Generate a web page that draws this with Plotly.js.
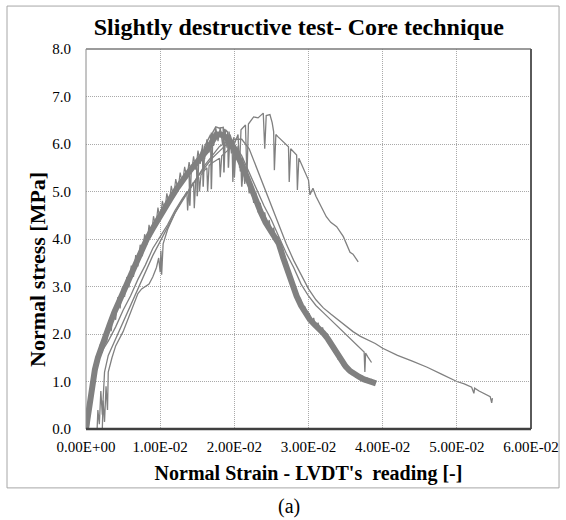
<!DOCTYPE html>
<html>
<head>
<meta charset="utf-8">
<script src="https://cdn.plot.ly/plotly-3.0.1.min.js"></script>
<style>html,body{margin:0;padding:0;background:#fff}#chart{width:566px;height:520px}</style>
</head>
<body>
<div id="chart"></div>
<script>
// ---- axis ticks ----
const xTickVals = [0, 0.01, 0.02, 0.03, 0.04, 0.05, 0.06];
const xTickText = ["0.00E+00", "1.00E-02", "2.00E-02", "3.00E-02", "4.00E-02", "5.00E-02", "6.00E-02"];
const yTickVals = [0, 1, 2, 3, 4, 5, 6, 7, 8];

// ---- specimen 1: thick band (smooth core) ----
const coreX = [0, 0.0003, 0.0006, 0.0008, 0.0012, 0.0016, 0.002, 0.0026, 0.0032, 0.0038, 0.0045, 0.0052, 0.006, 0.0068, 0.0075, 0.0082, 0.009, 0.0098, 0.0106, 0.0114, 0.0122, 0.013, 0.0138, 0.0146, 0.0154, 0.0162, 0.017, 0.0176, 0.0182, 0.0188, 0.0194, 0.02, 0.0206, 0.0212, 0.0218, 0.0224, 0.023, 0.0236, 0.0242, 0.0248, 0.0254, 0.026, 0.0266, 0.0272, 0.0278, 0.0284, 0.029, 0.0296, 0.0302, 0.0308, 0.0314, 0.032, 0.0326, 0.0332, 0.0338, 0.0344, 0.035, 0.0356, 0.0362, 0.0368, 0.0374, 0.038, 0.0386, 0.0391];
const coreY = [0, 0.35, 0.7, 0.95, 1.25, 1.5, 1.7, 1.95, 2.2, 2.45, 2.7, 2.95, 3.2, 3.5, 3.75, 4.0, 4.22, 4.45, 4.65, 4.85, 5.05, 5.25, 5.4, 5.55, 5.7, 5.85, 6.05, 6.2, 6.2, 6.15, 6.05, 5.9, 5.7, 5.5, 5.25, 5.0, 4.75, 4.55, 4.35, 4.2, 4.05, 3.9, 3.6, 3.3, 3.0, 2.8, 2.6, 2.42, 2.3, 2.2, 2.12, 2.02, 1.9, 1.75, 1.58, 1.42, 1.32, 1.22, 1.15, 1.1, 1.05, 1.02, 0.99, 0.96];

// ---- specimen 1: oscillating edge of the band ----
const bandX = [0.0000, 0.0002, 0.0004, 0.0006, 0.0008, 0.0010, 0.0012, 0.0014, 0.0016, 0.0019, 0.0022, 0.0025, 0.0028, 0.0031, 0.0034, 0.0037, 0.0040, 0.0043, 0.0046, 0.0049, 0.0052, 0.0055, 0.0058, 0.0061, 0.0064, 0.0067, 0.0070, 0.0073, 0.0076, 0.0079, 0.0082, 0.0085, 0.0088, 0.0091, 0.0094, 0.0097, 0.0100, 0.0103, 0.0106, 0.0109, 0.0112, 0.0115, 0.0118, 0.0121, 0.0124, 0.0127, 0.0130, 0.0133, 0.0136, 0.0139, 0.0142, 0.0145, 0.0148, 0.0151, 0.0154, 0.0157, 0.0160, 0.0163, 0.0166, 0.0169, 0.0172, 0.0175, 0.0178, 0.0181, 0.0184, 0.0187, 0.0190, 0.0193, 0.0196, 0.0199, 0.0202, 0.0205, 0.0208, 0.0211, 0.0214, 0.0217, 0.0220, 0.0223, 0.0226, 0.0229, 0.0232, 0.0235, 0.0238, 0.0241, 0.0244, 0.0247, 0.0250, 0.0253, 0.0256, 0.0259, 0.0262, 0.0265, 0.0268, 0.0271, 0.0274, 0.0277, 0.0280, 0.0283, 0.0286, 0.0289, 0.0292, 0.0295, 0.0298, 0.0301, 0.0304, 0.0307, 0.0310, 0.0313, 0.0316, 0.0319, 0.0322, 0.0325, 0.0328, 0.0331, 0.0334, 0.0337, 0.0340, 0.0343, 0.0346, 0.0349, 0.0352, 0.0355, 0.0358, 0.0361, 0.0364, 0.0367, 0.0370, 0.0373, 0.0376, 0.0379, 0.0382, 0.0385, 0.0388, 0.0391];
const bandY = [0.00, 0.45, 0.25, 0.85, 0.70, 1.20, 1.05, 1.50, 1.35, 1.78, 1.60, 2.02, 1.82, 2.28, 2.06, 2.52, 2.30, 2.78, 2.54, 2.98, 2.78, 3.20, 2.98, 3.44, 3.20, 3.66, 3.42, 3.88, 3.64, 4.10, 3.88, 4.30, 4.06, 4.48, 4.26, 4.66, 4.40, 4.80, 4.58, 4.96, 4.74, 5.12, 4.88, 5.26, 5.04, 5.40, 5.16, 5.52, 5.28, 5.62, 5.38, 5.74, 5.46, 5.86, 5.58, 5.98, 5.68, 6.10, 5.82, 6.24, 5.96, 6.34, 6.06, 6.35, 6.00, 6.32, 5.92, 6.26, 5.80, 6.14, 5.66, 5.96, 5.42, 5.72, 5.16, 5.46, 4.96, 5.20, 4.76, 4.98, 4.56, 4.76, 4.38, 4.56, 4.24, 4.40, 4.08, 4.24, 3.94, 4.06, 3.76, 3.80, 3.46, 3.52, 3.14, 3.22, 2.88, 2.96, 2.66, 2.76, 2.48, 2.58, 2.34, 2.44, 2.22, 2.34, 2.12, 2.24, 2.02, 2.14, 1.92, 2.02, 1.78, 1.86, 1.62, 1.68, 1.46, 1.52, 1.32, 1.40, 1.22, 1.30, 1.14, 1.22, 1.08, 1.16, 1.03, 1.12, 0.99, 1.08, 0.96, 1.05, 0.93, 1.00];

// ---- specimen 2: follows the band, with drops near the peak ----
const s2X = [0, 0.0004, 0.001, 0.002, 0.003, 0.004, 0.005, 0.006, 0.007, 0.008, 0.009, 0.010, 0.011, 0.012, 0.013, 0.0139, 0.0140, 0.0142, 0.0149, 0.0150, 0.0152, 0.0157, 0.0158, 0.0160, 0.0168, 0.0169, 0.0171, 0.0175, 0.018, 0.0185, 0.0186, 0.0188, 0.0191, 0.0192, 0.0194, 0.0199, 0.0200, 0.0202, 0.0209, 0.0210, 0.0212, 0.022, 0.023, 0.024, 0.025, 0.026, 0.027, 0.028, 0.029, 0.030, 0.031, 0.032, 0.033, 0.034, 0.035, 0.036, 0.037, 0.038, 0.0388];
const s2Y = [0, 0.6, 1.2, 1.75, 2.15, 2.55, 2.9, 3.25, 3.6, 3.95, 4.25, 4.5, 4.75, 5.0, 5.25, 5.45, 4.7, 5.5, 5.65, 4.9, 5.7, 5.9, 5.1, 5.95, 6.2, 5.05, 6.25, 6.36, 6.33, 6.35, 5.4, 6.3, 6.25, 5.5, 6.2, 5.95, 5.3, 5.9, 5.6, 5.1, 5.5, 5.15, 4.75, 4.4, 4.1, 3.85, 3.4, 2.95, 2.62, 2.35, 2.18, 2.05, 1.82, 1.5, 1.3, 1.18, 1.1, 1.03, 0.98];

// ---- specimen 3: long tail ----
const s3X = [0.0003, 0.0006, 0.001, 0.0015, 0.002, 0.003, 0.004, 0.005, 0.006, 0.007, 0.008, 0.009, 0.010, 0.011, 0.012, 0.013, 0.014, 0.015, 0.016, 0.017, 0.018, 0.019, 0.020, 0.021, 0.022, 0.023, 0.024, 0.025, 0.026, 0.027, 0.028, 0.029, 0.030, 0.031, 0.032, 0.033, 0.034, 0.035, 0.036, 0.037, 0.038, 0.039, 0.040, 0.042, 0.044, 0.046, 0.048, 0.050, 0.051, 0.052, 0.0523, 0.0524, 0.053, 0.054, 0.0545, 0.0547, 0.0548];
const s3Y = [0, 0.5, 0.9, 1.3, 1.6, 1.85, 2.15, 2.5, 2.8, 3.15, 3.45, 3.8, 4.05, 4.3, 4.6, 4.85, 5.05, 5.3, 5.5, 5.7, 5.85, 6.0, 6.1, 6.1, 5.9, 5.5, 5.1, 4.7, 4.3, 3.9, 3.55, 3.25, 2.95, 2.72, 2.55, 2.42, 2.3, 2.18, 2.05, 1.95, 1.87, 1.8, 1.7, 1.55, 1.43, 1.3, 1.15, 1.0, 0.95, 0.88, 0.75, 0.86, 0.8, 0.72, 0.68, 0.55, 0.65];

// ---- specimen 4: ends near 1.4 ----
const s4X = [0.0015, 0.0016, 0.0018, 0.002, 0.0022, 0.0025, 0.003, 0.004, 0.005, 0.006, 0.007, 0.008, 0.009, 0.010, 0.011, 0.012, 0.013, 0.014, 0.015, 0.016, 0.017, 0.018, 0.019, 0.020, 0.021, 0.022, 0.023, 0.024, 0.025, 0.026, 0.027, 0.028, 0.029, 0.030, 0.031, 0.032, 0.033, 0.034, 0.035, 0.036, 0.037, 0.0375, 0.0376, 0.0377, 0.038, 0.0385];
const s4Y = [0, 0.4, 0.1, 0.8, 0.3, 1.2, 1.55, 1.9, 2.25, 2.6, 2.95, 3.3, 3.65, 3.95, 4.25, 4.55, 4.8, 5.05, 5.3, 5.55, 5.75, 5.95, 6.05, 6.0, 5.75, 5.4, 5.05, 4.7, 4.4, 4.05, 3.7, 3.4, 3.05, 2.8, 2.6, 2.45, 2.3, 2.15, 2.0, 1.85, 1.7, 1.62, 1.2, 1.6, 1.52, 1.4];

// ---- specimen 5: highest peak with drops ----
const s5X = [0.0022, 0.0023, 0.0025, 0.0027, 0.0029, 0.003, 0.0035, 0.004, 0.005, 0.006, 0.007, 0.0075, 0.008, 0.0085, 0.009, 0.0095, 0.0098, 0.0100, 0.0101, 0.0102, 0.0104, 0.011, 0.012, 0.013, 0.0136, 0.0137, 0.0139, 0.0145, 0.0146, 0.0148, 0.0152, 0.0153, 0.0155, 0.016, 0.0163, 0.0164, 0.0166, 0.017, 0.018, 0.0181, 0.0183, 0.019, 0.0197, 0.0198, 0.020, 0.0205, 0.0207, 0.0209, 0.0215, 0.0217, 0.0219, 0.0226, 0.0232, 0.0239, 0.0241, 0.0243, 0.0248, 0.0251, 0.0253, 0.0254, 0.0256, 0.0259, 0.0266, 0.0273, 0.0274, 0.0276, 0.0284, 0.0285, 0.0287, 0.0293, 0.030, 0.0302, 0.0306, 0.031, 0.0316, 0.0324, 0.033, 0.0338, 0.0347, 0.035, 0.0356, 0.036, 0.0363, 0.0367];
const s5Y = [0, 0.6, 0.15, 0.9, 0.4, 1.2, 1.5, 1.75, 2.05, 2.45, 2.85, 2.95, 3.0, 3.05, 3.2, 3.4, 3.6, 3.3, 3.75, 3.25, 3.9, 4.2, 4.55, 4.85, 5.0, 4.6, 5.05, 5.2, 4.65, 5.25, 5.3, 5.0, 5.35, 5.45, 5.5, 5.0, 5.55, 5.6, 5.7, 5.3, 5.75, 5.85, 5.95, 5.2, 6.0, 6.2, 5.5, 6.3, 6.4, 5.3, 6.42, 6.57, 6.55, 6.65, 5.9, 6.6, 6.62, 6.45, 6.26, 5.45, 6.2, 6.15, 6.05, 5.94, 5.2, 5.9, 5.77, 5.03, 5.7, 5.49, 5.24, 4.93, 5.07, 4.9, 4.7, 4.47, 4.35, 4.26, 4.05, 3.95, 3.72, 3.68, 3.6, 3.52];

const gray = '#808080';
const traces = [
  {x: coreX, y: coreY, mode: 'lines', line: {color: gray, width: 6}},
  {x: bandX, y: bandY, mode: 'lines', line: {color: gray, width: 1.2}},
  {x: s2X, y: s2Y, mode: 'lines', line: {color: gray, width: 1.5}},
  {x: s3X, y: s3Y, mode: 'lines', line: {color: gray, width: 1.3}},
  {x: s4X, y: s4Y, mode: 'lines', line: {color: gray, width: 1.3}},
  {x: s5X, y: s5Y, mode: 'lines', line: {color: gray, width: 1.3}}
];

const serif = 'Liberation Serif';
const layout = {
  width: 566, height: 520,
  margin: {l: 86, r: 35, t: 49, b: 91},
  paper_bgcolor: '#fff', plot_bgcolor: '#fff',
  showlegend: false,
  title: {text: 'Slightly destructive test- Core technique',
    font: {family: serif, size: 24, color: '#000', weight: 'bold'},
    x: 0.528, xref: 'container', xanchor: 'center', y: 0.948, yref: 'container', yanchor: 'middle'},
  xaxis: {range: [0, 0.06], tickvals: xTickVals, ticktext: xTickText,
    showgrid: true, gridcolor: '#a9a9a9', griddash: '1px,1px', gridwidth: 1,
    zeroline: false, showline: false, ticks: '', ticklabelstandoff: 7,
    tickfont: {family: serif, size: 15, color: '#000'},
    title: {text: "Normal Strain - LVDT's\u00a0 reading [-]", standoff: 11,
      font: {family: serif, size: 20, color: '#000', weight: 'bold'}}},
  yaxis: {range: [0, 8], tickvals: yTickVals, tickformat: '.1f',
    showgrid: true, gridcolor: '#a9a9a9', griddash: '1px,1px', gridwidth: 1,
    zeroline: false, showline: false, ticks: '', ticklabelstandoff: 14,
    tickfont: {family: serif, size: 15, color: '#000'}},
  annotations: [
    {text: 'Normal stress [MPa]', xref: 'paper', yref: 'paper', x: -0.109, y: 0.42,
      textangle: -90, showarrow: false, xanchor: 'center', yanchor: 'middle',
      font: {family: serif, size: 22, color: '#000', weight: 'bold'}},
    {text: '(a)', xref: 'paper', yref: 'paper', x: 0.456, y: -0.205, showarrow: false,
      xanchor: 'center', yanchor: 'middle', font: {family: serif, size: 20, color: '#000'}}
  ],
  shapes: [
    {type: 'rect', xref: 'paper', yref: 'paper', x0: -0.1775, x1: 1.063, y0: -0.155, y1: 1.113,
      line: {color: '#a6a6a6', width: 1}, layer: 'below'},
    {type: 'line', xref: 'paper', yref: 'paper', x0: 0, x1: 1, y0: 1, y1: 1, line: {color: '#7a7a7a', width: 1.5}},
    {type: 'line', xref: 'paper', yref: 'paper', x0: 1, x1: 1, y0: 0, y1: 1, line: {color: '#5a5a5a', width: 2}},
    {type: 'line', xref: 'paper', yref: 'paper', x0: 0, x1: 0, y0: 0, y1: 1, line: {color: '#8a8a8a', width: 1}},
    {type: 'line', xref: 'paper', yref: 'paper', x0: 0, x1: 1, y0: 0, y1: 0, line: {color: '#404040', width: 2.5}}
  ]
};

Plotly.newPlot('chart', traces, layout, {displayModeBar: false, staticPlot: true});
</script>
</body>
</html>
